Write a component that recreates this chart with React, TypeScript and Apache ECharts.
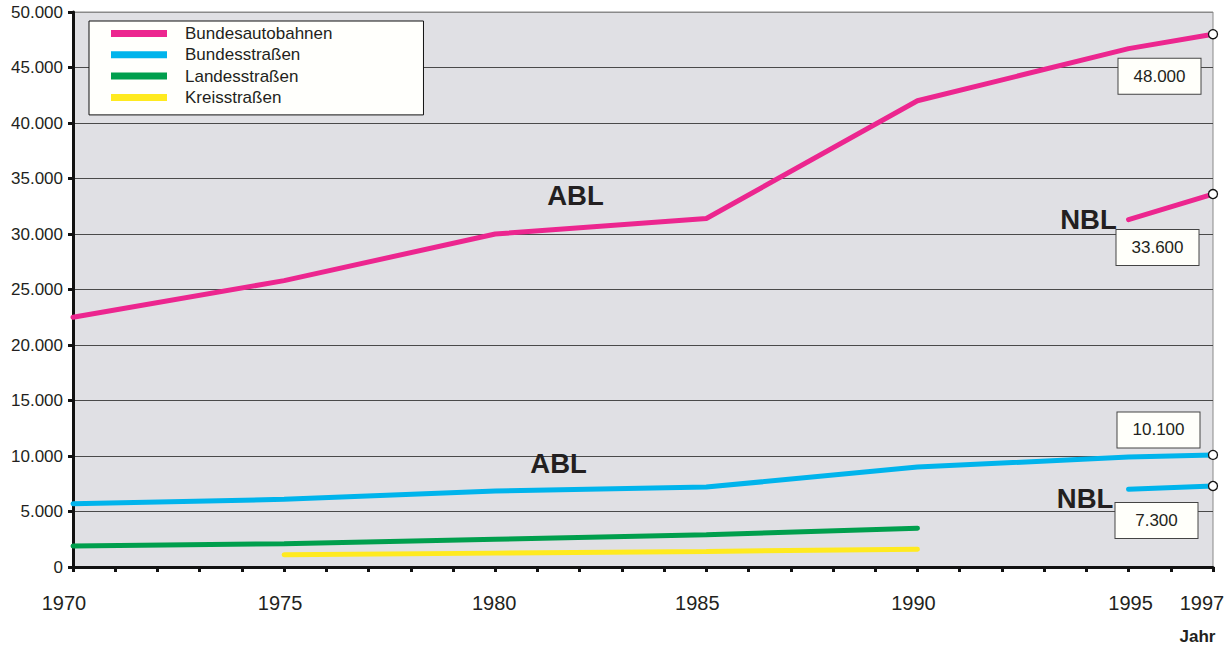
import React, { useEffect, useRef } from "react";
import * as echarts from "echarts";

const yearsABL = [1970, 1975, 1980, 1985, 1990, 1995, 1997];
const yearsNBL = [1995, 1997];
const yearsLandes = [1970, 1975, 1980, 1985, 1990];
const yearsKreis = [1975, 1980, 1985, 1990];

const autobahnABL = [22500, 25800, 30000, 31400, 42000, 46700, 48000];
const autobahnNBL = [31300, 33600];
const bundesABL = [5700, 6100, 6850, 7200, 9000, 9900, 10100];
const bundesNBL = [7000, 7300];
const landes = [1900, 2100, 2500, 2900, 3500];
const kreis = [1100, 1250, 1400, 1600];

const seriesNames = ["Bundesautobahnen", "Bundesstraßen", "Landesstraßen", "Kreisstraßen"];
const xLabelYears = [1970, 1975, 1980, 1985, 1990, 1995, 1997];
// horizontal nudge (px) of each year label relative to its tick, as in the original
const xLabelShift: Record<number, number> = { 1970: -9, 1975: -4, 1980: -1, 1985: -9, 1990: -4, 1995: 2, 1997: -11 };

const annotations = [
  { text: "ABL", coord: [1981.9, 33500] },
  { text: "NBL", coord: [1994.05, 31300] },
  { text: "ABL", coord: [1981.5, 9300] },
  { text: "NBL", coord: [1993.97, 6170] },
];

const FONT = "'Liberation Sans', Arial, sans-serif";
const TXT = "#231f20";
const COLORS = ["#ec268f", "#00b4ec", "#009f4d", "#ffea1f"];

const fmt = (v: number) => String(Math.round(v)).replace(/\B(?=(\d{3})+(?!\d))/g, ".");

function pairs(xs: number[], ys: number[], endLabelOffset?: number[]) {
  return xs.map((x, i) => {
    const isEnd = endLabelOffset && i === xs.length - 1;
    if (!isEnd) return { value: [x, ys[i]] };
    return {
      value: [x, ys[i]],
      symbol: "circle",
      symbolSize: 9,
      itemStyle: { color: "#ffffff", borderColor: "#111", borderWidth: 1.3 },
      label: {
        show: true,
        position: "inside",
        offset: endLabelOffset,
        formatter: (p: any) => fmt(p.value[1]),
        fontFamily: FONT,
        fontSize: 17,
        color: TXT,
        backgroundColor: "#fffffa",
        borderColor: "#444",
        borderWidth: 1,
        width: 82,
        height: 35,
        lineHeight: 35,
        align: "center",
        verticalAlign: "middle",
      },
    };
  });
}

export default function App() {
  const ref = useRef<HTMLDivElement>(null);
  useEffect(() => {
    if (!ref.current) return;
    const chart = echarts.init(ref.current, undefined, { renderer: "svg", width: 1231, height: 646 });

    const lineSeries = (name: string, color: string, data: any[], ann: any[]) => ({
      type: "line",
      name,
      data,
      symbol: "none",
      showSymbol: true,
      color,
      lineStyle: { color, width: 5, cap: "round" },
      z: 3,
      markPoint: ann.length
        ? {
            symbol: "rect",
            symbolSize: 1,
            itemStyle: { color: "transparent" },
            label: {
              show: true,
              position: "inside",
              fontFamily: FONT,
              fontWeight: "bold",
              fontSize: 27.5,
              color: TXT,
            },
            data: ann.map((a) => ({ coord: a.coord, label: { formatter: a.text } })),
          }
        : undefined,
    });

    const splitColors = Array.from({ length: 11 }, (_, i) => (i === 10 ? "#8a8a8a" : "#4a4a4a"));

    const rich: Record<string, any> = {};
    xLabelYears.forEach((y) => {
      const s = xLabelShift[y] || 0;
      rich["y" + y] = {
        fontFamily: FONT,
        fontSize: 20,
        color: TXT,
        padding: s < 0 ? [0, -2 * s, 0, 0] : [0, 0, 0, 2 * s],
      };
    });

    chart.setOption({
      animation: false,
      backgroundColor: "#ffffff",
      grid: {
        left: 73,
        right: 18,
        top: 12,
        bottom: 79,
        outerBoundsMode: "none",
        containLabel: false,
        show: true,
        backgroundColor: "#e0e0e4",
        borderColor: "#8a8a8a",
        borderWidth: 1,
      },
      legend: {
        orient: "vertical",
        left: 89,
        top: 21,
        padding: [4, 91, 9, 22],
        backgroundColor: "#fffffc",
        borderColor: "#111",
        borderWidth: 1,
        itemWidth: 56,
        itemHeight: 7,
        itemGap: 4.3,
        icon: "rect",
        data: seriesNames,
        textStyle: {
          fontFamily: FONT,
          fontSize: 17,
          lineHeight: 16,
          color: TXT,
          padding: [0, 0, 0, 13],
        },
        selectedMode: false,
      },
      xAxis: {
        type: "value",
        min: 1970,
        max: 1997,
        interval: 1,
        splitLine: { show: false },
        axisLine: { show: true, lineStyle: { color: "#111", width: 3 } },
        axisTick: { show: true, length: 5, lineStyle: { color: "#111", width: 3 } },
        axisLabel: {
          margin: 26,
          fontFamily: FONT,
          fontSize: 20,
          color: TXT,
          formatter: (v: number) => (xLabelYears.includes(v) ? `{y${v}|${v}}` : ""),
          rich,
        },
      },
      yAxis: {
        type: "value",
        min: 0,
        max: 50000,
        interval: 5000,
        axisLine: { show: true, lineStyle: { color: "#111", width: 3 } },
        axisTick: { show: true, length: 5, lineStyle: { color: "#111", width: 3 } },
        splitLine: { show: true, lineStyle: { color: splitColors, width: 1 } },
        axisLabel: {
          margin: 10,
          fontFamily: FONT,
          fontSize: 17,
          color: TXT,
          formatter: (v: number) => fmt(v),
        },
      },
      graphic: [
        {
          type: "text",
          x: 1197.5,
          y: 636,
          style: {
            text: "Jahr",
            fontFamily: FONT,
            fontWeight: "bold",
            fontSize: 17,
            fill: TXT,
            textAlign: "center",
            textVerticalAlign: "middle",
          },
        },
      ],
      series: [
        lineSeries(seriesNames[0], COLORS[0], pairs(yearsABL, autobahnABL, [-53.5, 42]), [annotations[0]]),
        lineSeries(seriesNames[0], COLORS[0], pairs(yearsNBL, autobahnNBL, [-55.5, 53.5]), [annotations[1]]),
        lineSeries(seriesNames[1], COLORS[1], pairs(yearsABL, bundesABL, [-54.5, -25]), [annotations[2]]),
        lineSeries(seriesNames[1], COLORS[1], pairs(yearsNBL, bundesNBL, [-56.5, 34.5]), [annotations[3]]),
        lineSeries(seriesNames[2], COLORS[2], pairs(yearsLandes, landes), []),
        lineSeries(seriesNames[3], COLORS[3], pairs(yearsKreis, kreis), []),
      ],
    });
    return () => chart.dispose();
  }, []);
  return (
    <div
      ref={ref}
      style={{ position: "fixed", left: 0, top: 0, width: 1231, height: 646 }}
    />
  );
}
